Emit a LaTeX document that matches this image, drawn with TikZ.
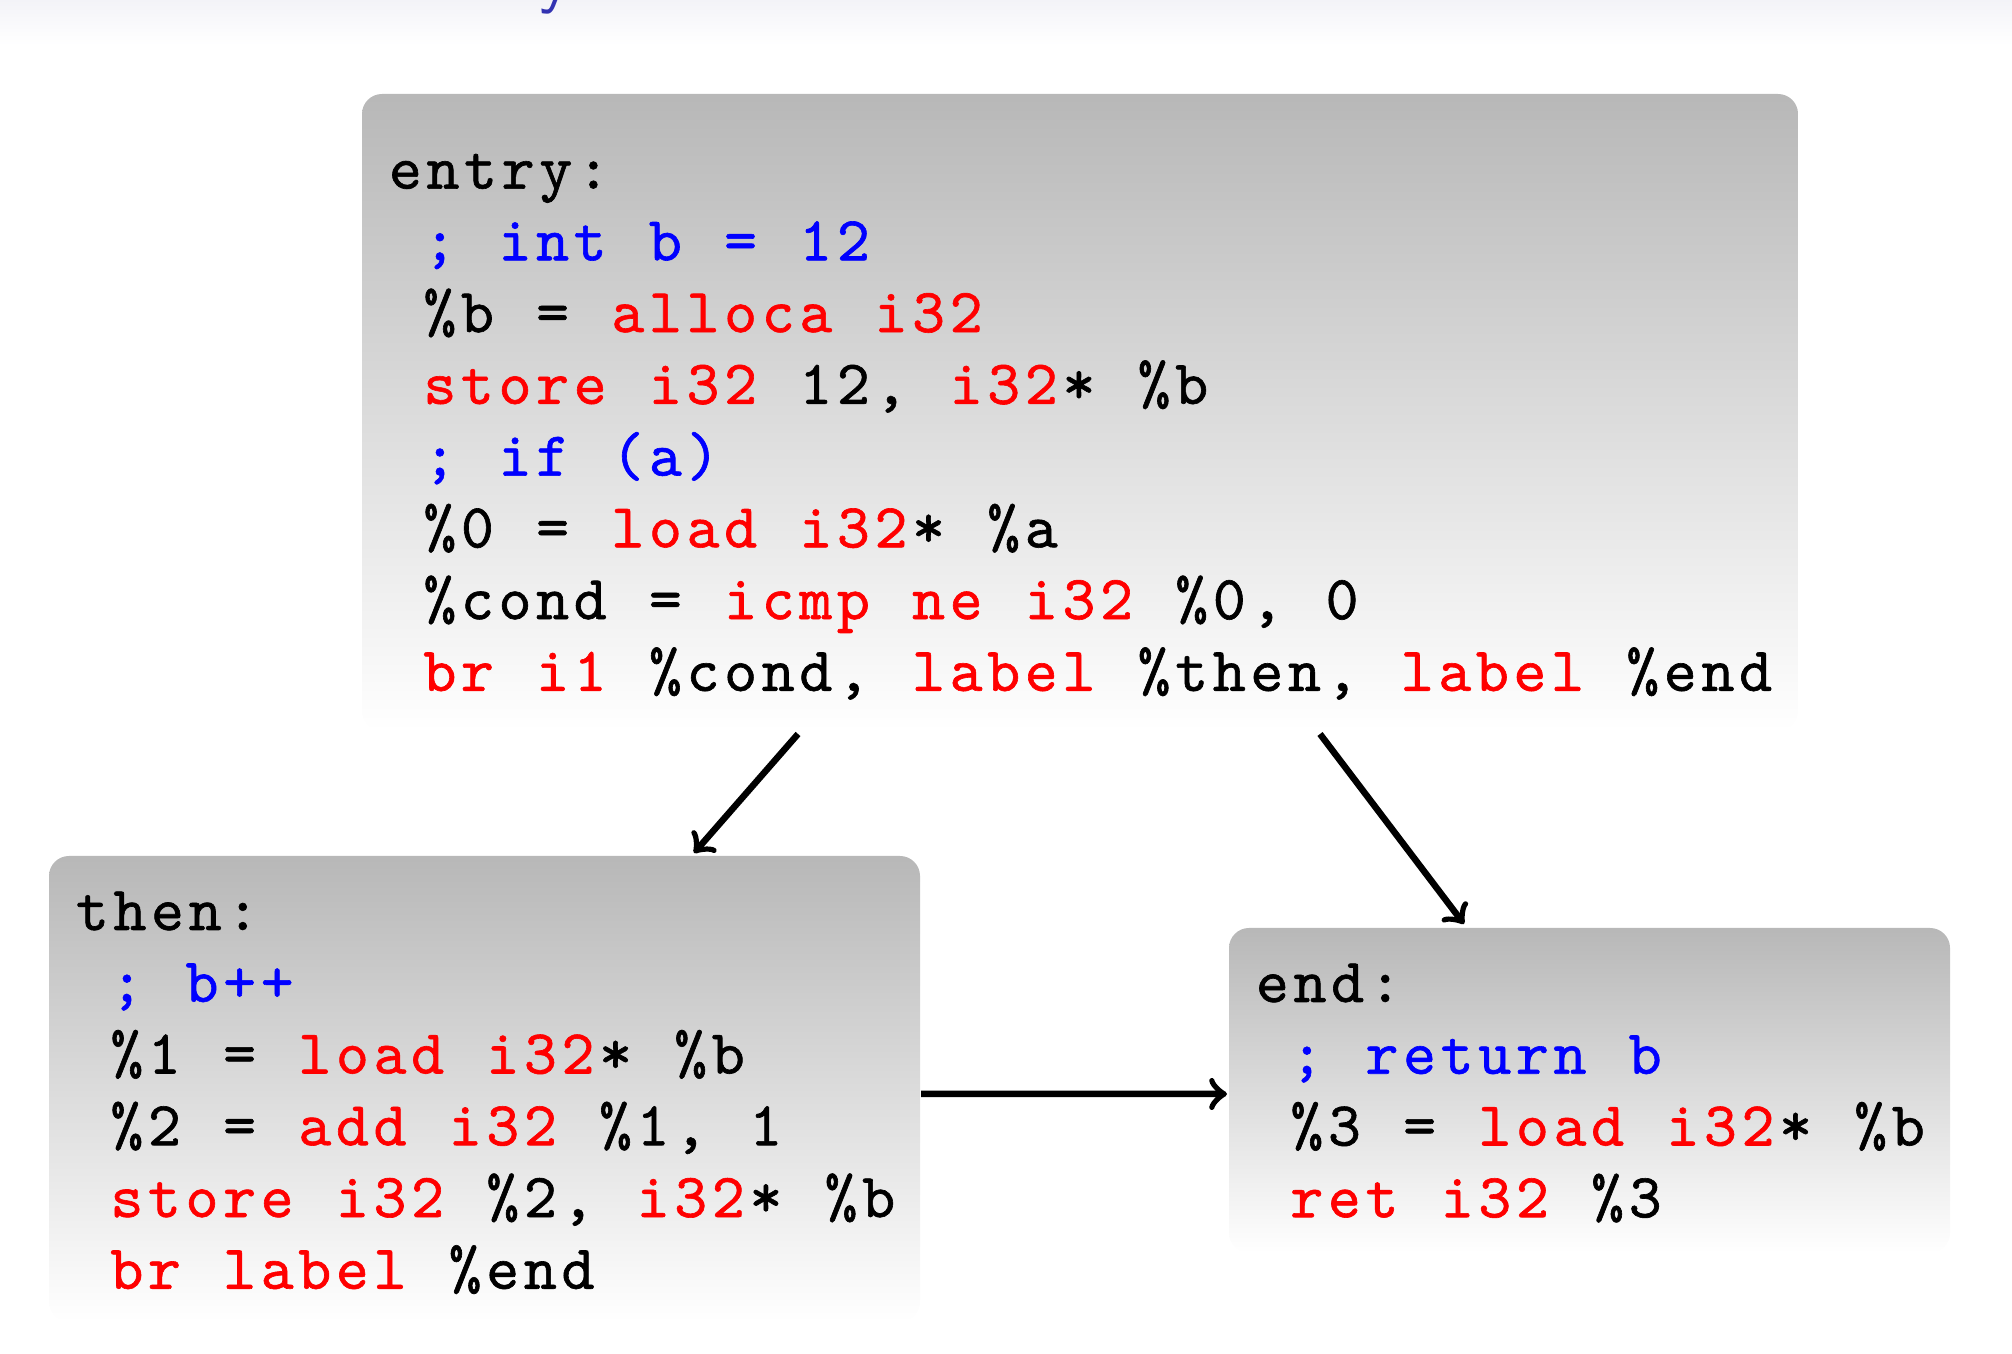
\documentclass[tikz,border=0pt]{standalone}
\usepackage{fontspec}
\setmonofont{lmmono10-regular.otf}[LetterSpace=7.5,FakeBold=1]
\usetikzlibrary{calc}
\definecolor{titleblue}{rgb}{0.2,0.2,0.7}
\definecolor{bandtop}{RGB}{243,243,248}
\newcommand\kw[1]{\textcolor{red}{#1}}
\newcommand\cmt[1]{\textcolor{blue}{#1}}
\newcommand\ind{\hspace*{0.55em}}
\newcommand\lk{\kern0.075em\relax}
\newcommand\codefont{\fontsize{12.53}{14.35}\selectfont\ttfamily\spaceskip 0.675em\relax}
\tikzset{
  x=0.2pt, y=-0.2pt,
  blockbox/.style={rounded corners=4pt, top color=black!28, bottom color=white,
    draw=none, inner sep=0pt, outer sep=0pt, anchor=north west},
  codetext/.style={anchor=base west, inner sep=0pt, outer sep=0pt, font=\codefont},
  flow/.style={->, line width=1.3pt},
}
\begin{document}
\begin{tikzpicture}
\useasboundingbox (0,0) rectangle (2012,1354);
% faint headline band and clipped title descender
\shade[top color=bandtop, bottom color=white] (0,0) rectangle (2012,45);
\begin{scope}
  \clip (0,0) rectangle (2012,16);
  \node[anchor=base west, inner sep=0pt, text=titleblue,
        font=\fontsize{14.4}{17}\selectfont\sffamily] (ttl) at (538,0) {y};
\end{scope}

% blocks
\node[blockbox, minimum width=287.2pt, minimum height=127.4pt] (entry) at (362,94) {};
\node[blockbox, minimum width=174.2pt, minimum height=93.2pt] (then) at (49,856) {};
\node[blockbox, minimum width=144.2pt, minimum height=65pt] (endb) at (1229,928) {};

% code
\node[codetext] (entrytxt) at (389,188.6) {\vtop{%
  \hbox{entry:}
  \hbox{\ind\cmt{; int b = 12}}
  \hbox{\ind\%b = \kw{alloca i32}}
  \hbox{\ind\kw{store i32} 12, \kw{i32}\lk* \%b}
  \hbox{\ind\cmt{; if (a)}}
  \hbox{\ind\%0 = \kw{load i32}\lk* \%a}
  \hbox{\ind\%cond = \kw{icmp ne i32} \%0, 0}
  \hbox{\ind\kw{br i1} \%cond, \kw{label} \%then, \kw{label} \%end}}};

\node[codetext] (thentxt) at (76,930) {\vtop{%
  \hbox{then:}
  \hbox{\ind\cmt{; b++}}
  \hbox{\ind\%1 = \kw{load i32}\lk* \%b}
  \hbox{\ind\%2 = \kw{add i32} \%1, 1}
  \hbox{\ind\kw{store i32} \%2, \kw{i32}\lk* \%b}
  \hbox{\ind\kw{br label} \%end}}};

\node[codetext] (endtxt) at (1256,1002) {\vtop{%
  \hbox{end:}
  \hbox{\ind\cmt{; return b}}
  \hbox{\ind\%3 = \kw{load i32}\lk* \%b}
  \hbox{\ind\kw{ret i32} \%3}}};

% connectors
\draw[flow] ($(entry.south west)+(436,3)$) -- ($(then.north west)+(645,-3)$);
\draw[flow] ($(entry.south west)+(958,3)$) -- ($(endb.north west)+(235,-4)$);
\draw[flow] ($(then.east)+(1,5)$) -- ($(endb.west)+(-2,3.5)$);
\end{tikzpicture}
\end{document}
